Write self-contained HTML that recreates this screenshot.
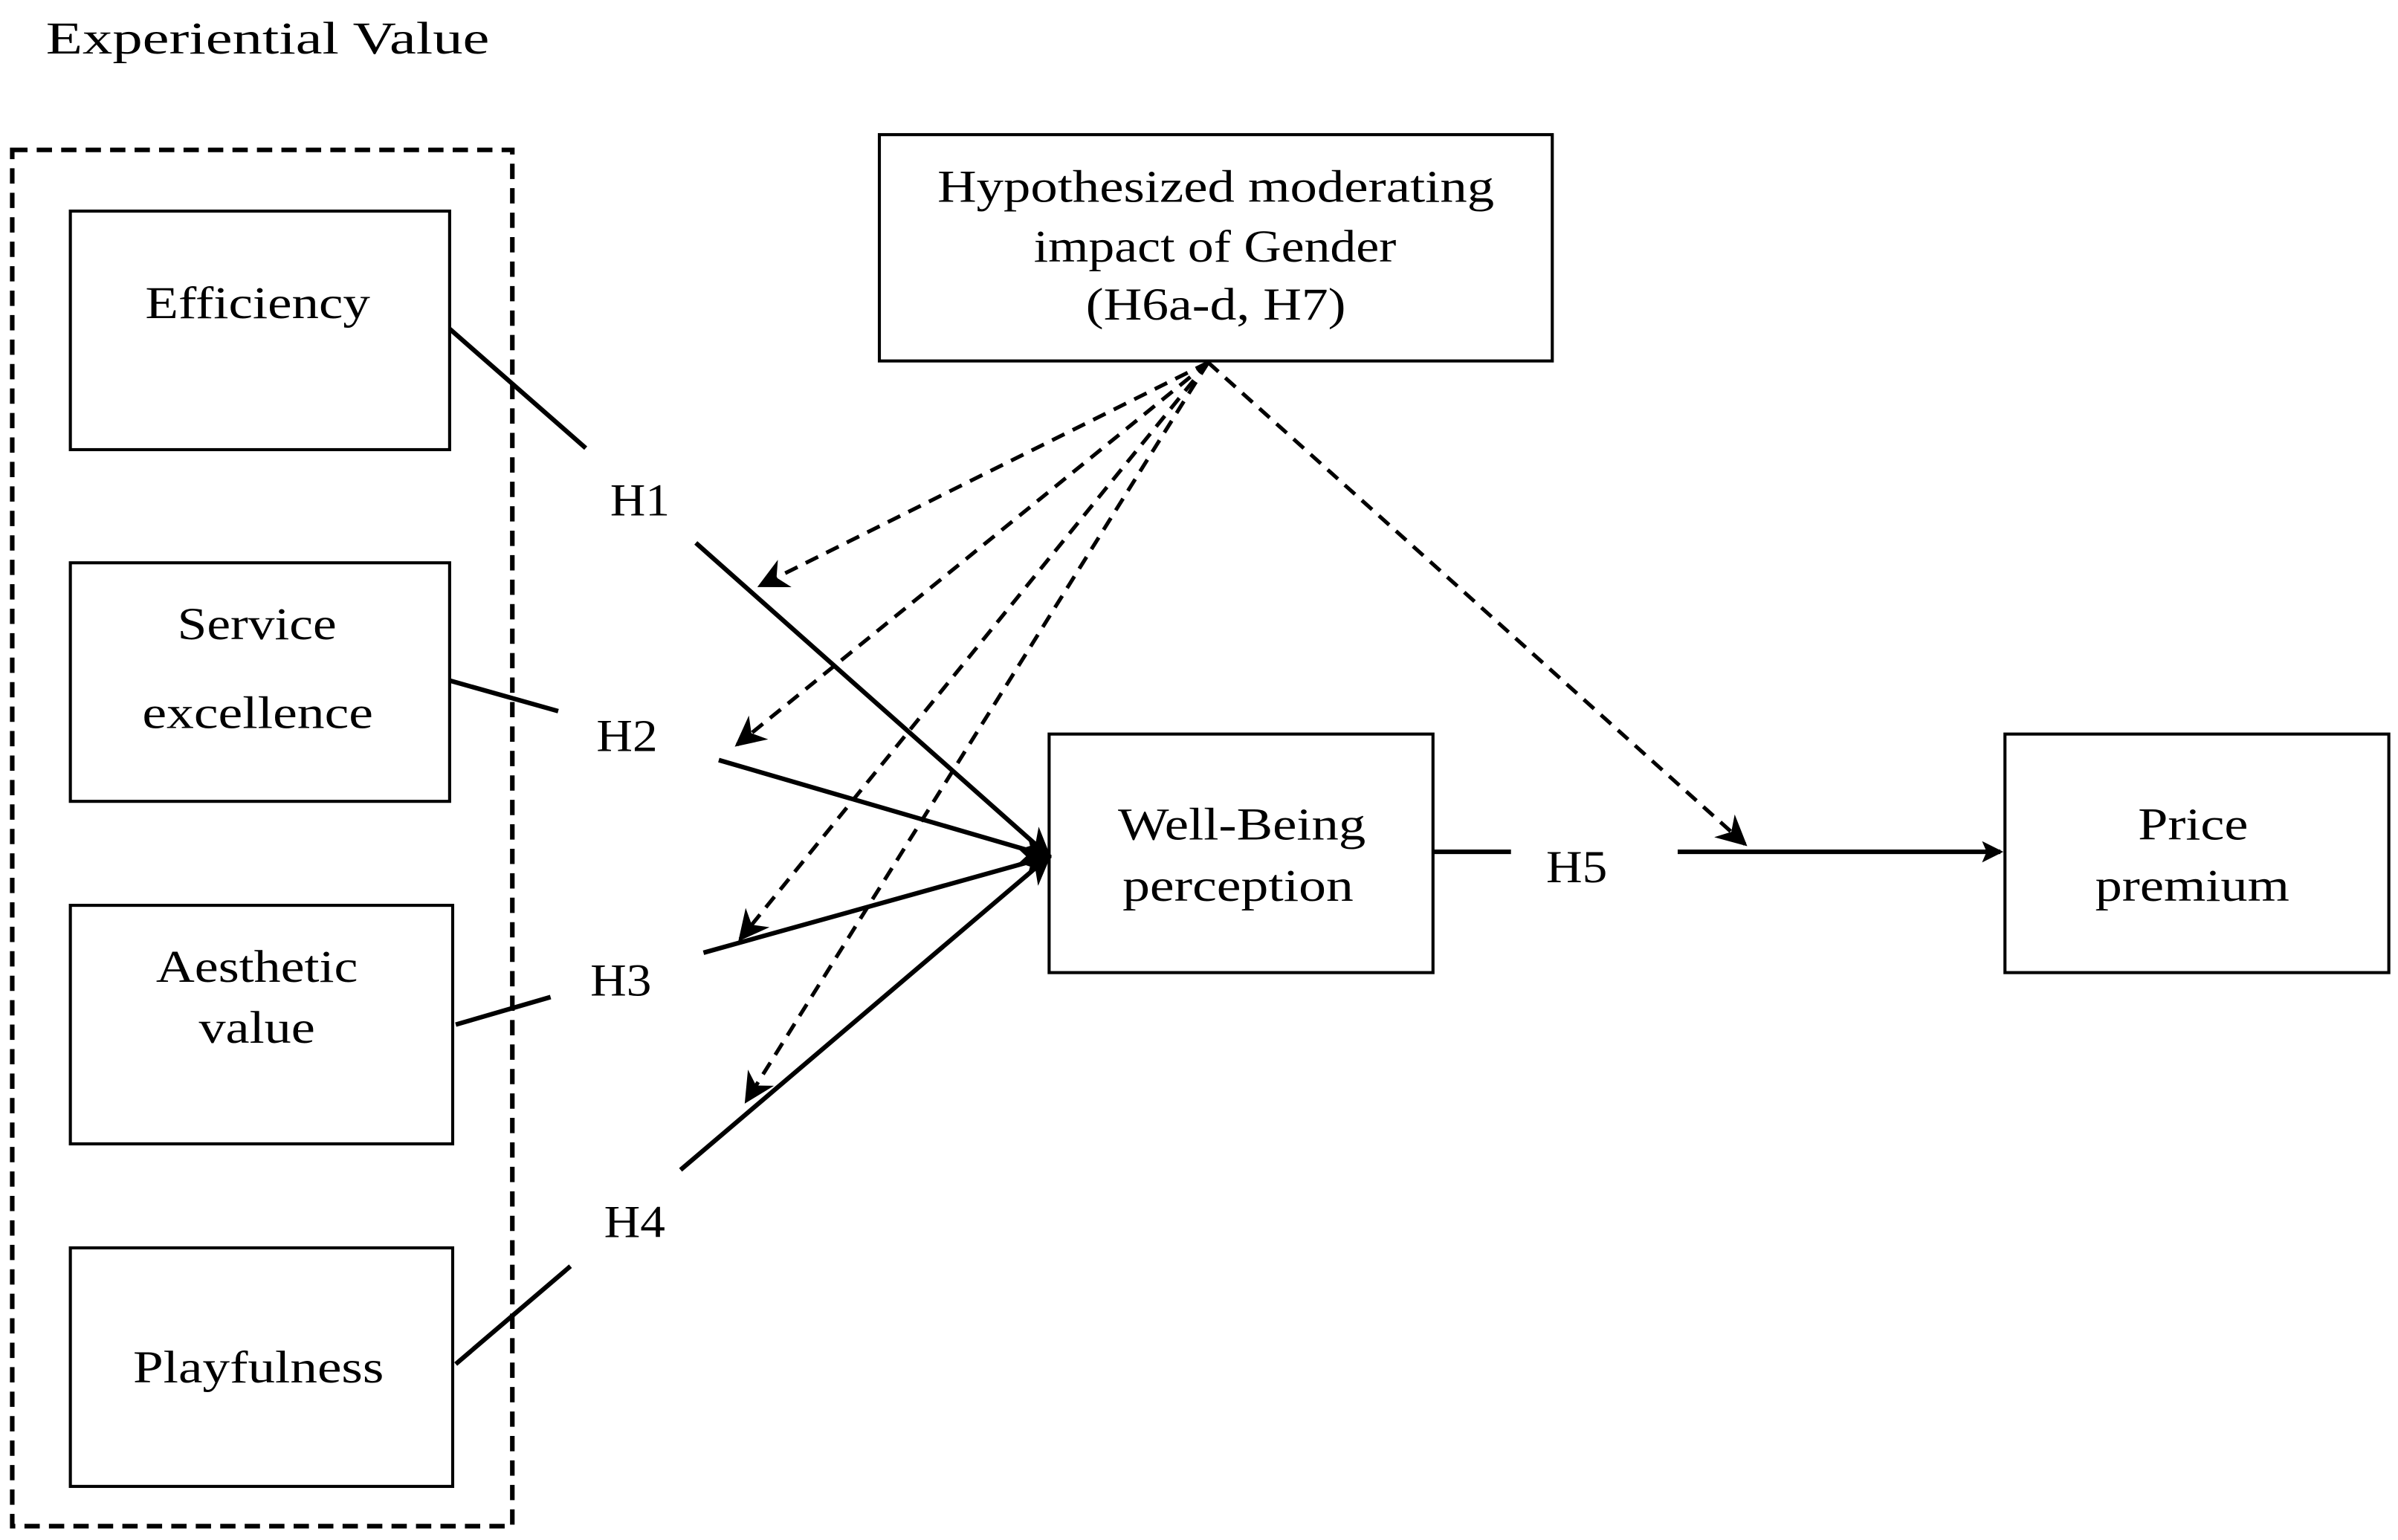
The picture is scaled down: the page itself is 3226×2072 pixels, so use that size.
<!DOCTYPE html>
<html><head><meta charset="utf-8"><style>
html,body{margin:0;padding:0;background:#fff;}
svg{display:block;}
text{font-family:"Liberation Serif",serif;font-size:30px;fill:#000;}
</style></head><body>
<svg width="3226" height="2072" viewBox="0 0 1568 1007" xmlns="http://www.w3.org/2000/svg">
<defs>
<marker id="a" viewBox="0 0 20 20" refX="18" refY="10" markerWidth="20" markerHeight="20" markerUnits="userSpaceOnUse" orient="auto">
<path d="M0,0 L20,10 L0,20 L6,10 Z" fill="#000"/>
</marker>
<marker id="b" viewBox="0 0 14 14" refX="12" refY="7" markerWidth="14" markerHeight="14" markerUnits="userSpaceOnUse" orient="auto">
<path d="M0,0 L14,7 L0,14 L3,7 Z" fill="#000"/>
</marker>
</defs>
<text x="30" y="35" textLength="290" lengthAdjust="spacingAndGlyphs">Experiential Value</text>
<rect x="8" y="98" width="327" height="900" fill="none" stroke="#000" stroke-width="3" stroke-dasharray="10,6"/>
<g fill="none" stroke="#000" stroke-width="2">
<rect x="46" y="138" width="248" height="156"/>
<rect x="46" y="368" width="248" height="156"/>
<rect x="46" y="592" width="250" height="156"/>
<rect x="46" y="816" width="250" height="156"/>
<rect x="575" y="88" width="440" height="148"/>
<rect x="686" y="480" width="251" height="156"/>
<rect x="1311" y="480" width="251" height="156"/>
</g>
<g lengthAdjust="spacingAndGlyphs">
<text x="95" y="208" textLength="147" lengthAdjust="spacingAndGlyphs">Efficiency</text>
<text x="116" y="418" textLength="104" lengthAdjust="spacingAndGlyphs">Service</text>
<text x="93" y="476" textLength="151" lengthAdjust="spacingAndGlyphs">excellence</text>
<text x="102" y="642" textLength="132" lengthAdjust="spacingAndGlyphs">Aesthetic</text>
<text x="130" y="682" textLength="76" lengthAdjust="spacingAndGlyphs">value</text>
<text x="87" y="904" textLength="164" lengthAdjust="spacingAndGlyphs">Playfulness</text>
<text x="613" y="132" textLength="364" lengthAdjust="spacingAndGlyphs">Hypothesized moderating</text>
<text x="676" y="171" textLength="237" lengthAdjust="spacingAndGlyphs">impact of Gender</text>
<text x="710" y="209" textLength="170" lengthAdjust="spacingAndGlyphs">(H6a-d, H7)</text>
<text x="731" y="549" textLength="162" lengthAdjust="spacingAndGlyphs">Well-Being</text>
<text x="734" y="589" textLength="151" lengthAdjust="spacingAndGlyphs">perception</text>
<text x="1398" y="549" textLength="72" lengthAdjust="spacingAndGlyphs">Price</text>
<text x="1370" y="589" textLength="127" lengthAdjust="spacingAndGlyphs">premium</text>
<text x="399" y="337" textLength="39" lengthAdjust="spacingAndGlyphs">H1</text>
<text x="390" y="491" textLength="40" lengthAdjust="spacingAndGlyphs">H2</text>
<text x="386" y="651" textLength="40" lengthAdjust="spacingAndGlyphs">H3</text>
<text x="395" y="809" textLength="40" lengthAdjust="spacingAndGlyphs">H4</text>
<text x="1011" y="577" textLength="40" lengthAdjust="spacingAndGlyphs">H5</text>
</g>
<g stroke="#000" stroke-width="3" fill="none">
<line x1="294" y1="215" x2="383" y2="293"/>
<line x1="455" y1="355" x2="686" y2="560" marker-end="url(#a)"/>
<line x1="294" y1="445" x2="365" y2="465"/>
<line x1="470" y1="497" x2="686" y2="560" marker-end="url(#a)"/>
<line x1="298" y1="670" x2="360" y2="652"/>
<line x1="460" y1="623" x2="686" y2="560" marker-end="url(#a)"/>
<line x1="298" y1="892" x2="373" y2="828"/>
<line x1="445" y1="765" x2="686" y2="560" marker-end="url(#a)"/>
<line x1="937" y1="557" x2="988" y2="557"/>
<line x1="1097" y1="557" x2="1308" y2="557" marker-end="url(#b)"/>
</g>
<g stroke="#000" stroke-width="2.5" fill="none" stroke-dasharray="9,6">
<line x1="790" y1="237" x2="497" y2="383" marker-end="url(#a)"/>
<line x1="790" y1="237" x2="482" y2="487" marker-end="url(#a)"/>
<line x1="790" y1="237" x2="484" y2="614" marker-end="url(#a)"/>
<line x1="790" y1="237" x2="488" y2="720" marker-end="url(#a)"/>
<line x1="790" y1="237" x2="1141" y2="552" marker-end="url(#a)"/>
</g>
</svg>
</body></html>
